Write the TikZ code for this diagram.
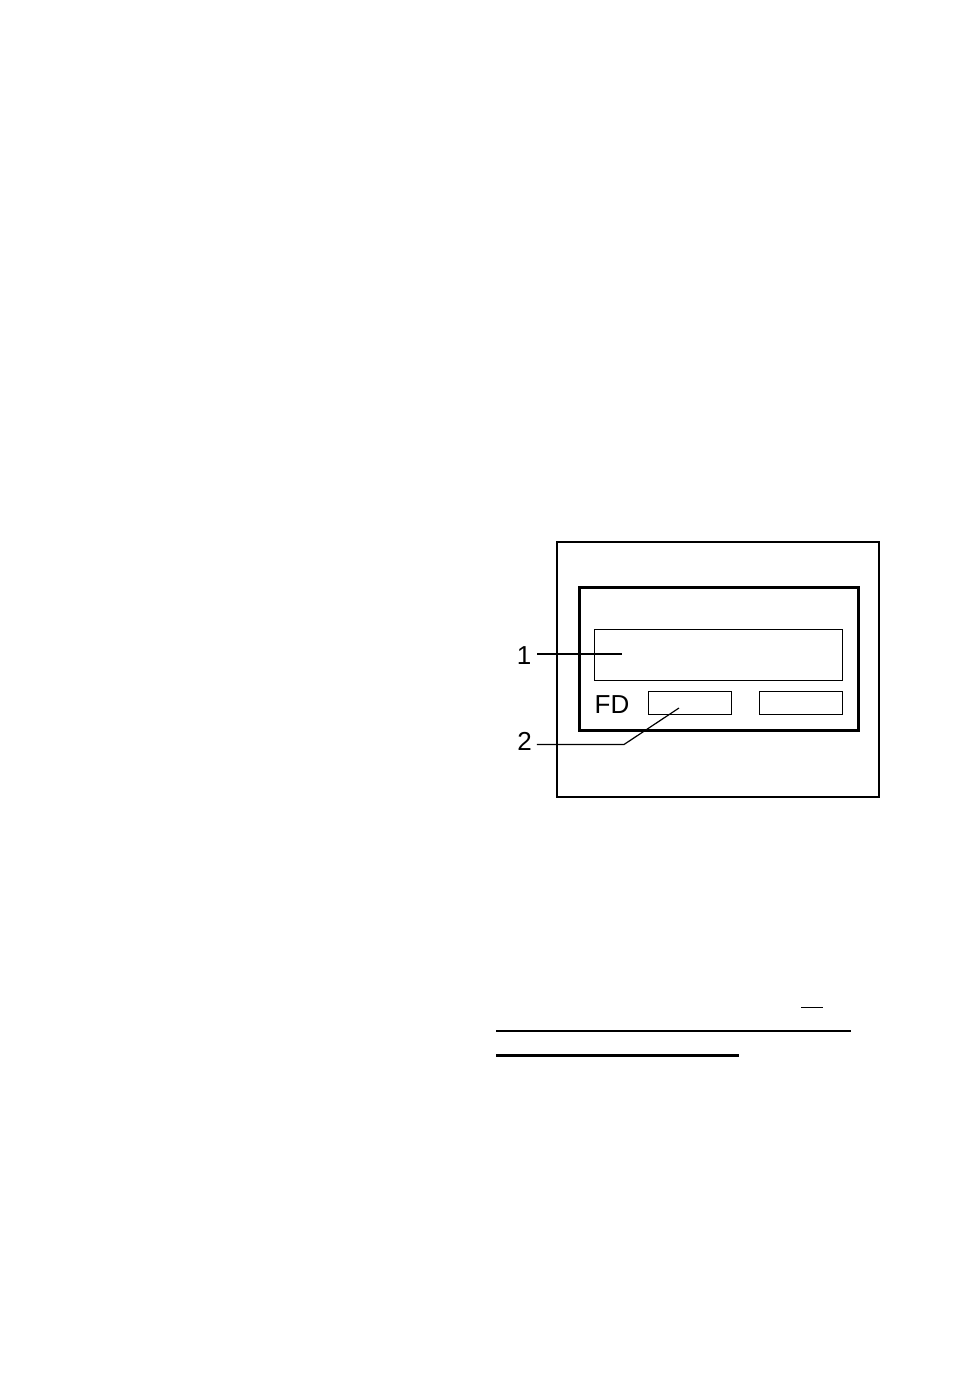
\documentclass[tikz,border=0pt]{standalone}
\usepackage{fontspec}
\setmainfont{Liberation Sans}
\usepackage{tikz}
\usepackage{xcolor}

\begin{document}
\begin{tikzpicture}[
  x=1pt, y=-1pt,
  thinbox/.style={draw, line width=1pt, inner sep=0pt, outer sep=0pt},
  label/.style={font=\fontsize{26}{30}\selectfont, inner sep=0pt},
  leader/.style={line width=1.2pt}
]
\useasboundingbox (0,0) rectangle (954,1381);

% housing and panel
\node[thinbox, line width=1.5pt, minimum width=322pt, minimum height=255pt] (outer) at (718,669.5) {};
\node[thinbox, line width=3pt, minimum width=279pt, minimum height=143pt] (panel) at (718.5,658.5) {};

% display and small fields
\node[thinbox, minimum width=248pt, minimum height=51pt] (display) at (718,654.5) {};
\node[thinbox, minimum width=83pt, minimum height=23pt] (fdbox) at (689.5,702.5) {};
\node[thinbox, minimum width=83pt, minimum height=23pt] (rightbox) at (800.5,702.5) {};
\node[label] (fd) at (612,705) {FD};

% callouts
\node[label] (lab1) at (524,655.5) {1};
\node[label] (lab2) at (524.5,741) {2};
\coordinate (end1) at (622,654);
\coordinate (bend2) at (624,744.5);
\coordinate (end2) at (679,708);
\draw[leader] (lab1.east) ++(6,-1.5) coordinate (start1) -- (end1);
\draw[leader] (lab2.east) ++(5,3.5) coordinate (start2) -- (bend2) -- (end2);

% rules at the bottom
\draw[line width=1pt] (801,1007) -- (823,1007);
\draw[line width=1.3pt] (496,1031) -- (851,1031);
\draw[line width=3pt] (496,1055) -- (739,1055);

\end{tikzpicture}
\end{document}
